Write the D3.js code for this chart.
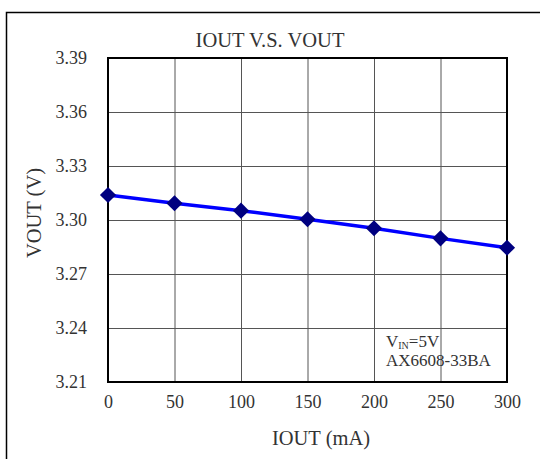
<!DOCTYPE html>
<html>
<head>
<meta charset="utf-8">
<script src="https://cdn.jsdelivr.net/npm/d3@7"></script>
<style>
  body { margin: 0; background: #fff; }
  text { font-family: "Liberation Serif", "DejaVu Serif", serif; fill: #333; }
</style>
</head>
<body>
<div id="chart"></div>
<script>
// values
var iout = [0, 50, 100, 150, 200, 250, 300];
var vout = [3.3139, 3.3093, 3.3052, 3.3004, 3.2954, 3.2898, 3.2846];
var xTicks = [0, 50, 100, 150, 200, 250, 300];
var yTicks = [3.21, 3.24, 3.27, 3.30, 3.33, 3.36, 3.39];

var width = 540, height = 459;
var plotLeft = 108, plotRight = 507, plotTop = 58, plotBottom = 382;

var svg = d3.select("#chart").append("svg")
    .attr("width", width).attr("height", height);

// outer frame (only left and top edges show in the picture)
svg.append("path")
    .attr("d", "M6.5," + height + "V12.5H" + width)
    .attr("fill", "none").attr("stroke", "#000").attr("stroke-width", 1.5);

var x = d3.scaleLinear().domain([0, 300]).range([plotLeft, plotRight]);
var y = d3.scaleLinear().domain([3.21, 3.39]).range([plotBottom, plotTop]);

// grid
var grid = svg.append("g");
grid.append("g")
    .attr("transform", "translate(0," + plotBottom + ")")
    .call(d3.axisBottom(x).tickValues(xTicks).tickSize(-(plotBottom - plotTop)).tickFormat(""))
    .call(function (g) { g.select(".domain").remove(); })
    .selectAll("line").attr("stroke", "#555").attr("stroke-width", 1);
grid.append("g")
    .attr("transform", "translate(" + plotLeft + ",0)")
    .call(d3.axisLeft(y).tickValues(yTicks).tickSize(-(plotRight - plotLeft)).tickFormat(""))
    .call(function (g) { g.select(".domain").remove(); })
    .selectAll("line").attr("stroke", "#555").attr("stroke-width", 1);

// plot border
svg.append("rect")
    .attr("x", plotLeft).attr("y", plotTop)
    .attr("width", plotRight - plotLeft).attr("height", plotBottom - plotTop)
    .attr("fill", "none").attr("stroke", "#000").attr("stroke-width", 2);

// tick labels
var xa = svg.append("g")
    .attr("transform", "translate(0," + plotBottom + ")")
    .call(d3.axisBottom(x).tickValues(xTicks).tickSize(0).tickPadding(13));
xa.select(".domain").remove();
xa.selectAll("text").style("font-size", "18px").attr("fill", null);
xa.attr("font-family", null).attr("font-size", null);

var ya = svg.append("g")
    .attr("transform", "translate(" + plotLeft + ",0)")
    .call(d3.axisLeft(y).tickValues(yTicks).tickSize(0).tickPadding(21).tickFormat(d3.format(".2f")));
ya.select(".domain").remove();
ya.selectAll("text").style("font-size", "18px").attr("fill", null);
ya.attr("font-family", null).attr("font-size", null);

// titles
svg.append("text")
    .attr("x", 270).attr("y", 46.5)
    .attr("text-anchor", "middle")
    .style("font-size", "20.5px")
    .text("IOUT V.S. VOUT");

svg.append("text")
    .attr("x", 321).attr("y", 445)
    .attr("text-anchor", "middle")
    .style("font-size", "20.5px")
    .text("IOUT (mA)");

svg.append("text")
    .attr("transform", "translate(41,213) rotate(-90)")
    .attr("text-anchor", "middle")
    .style("font-size", "20.5px")
    .text("VOUT (V)");

// series
var pts = iout.map(function (d, i) { return [d, vout[i]]; });

svg.append("path")
    .datum(pts)
    .attr("fill", "none")
    .attr("stroke", "#0000ff")
    .attr("stroke-width", 3.5)
    .attr("d", d3.line().x(function (d) { return x(d[0]); }).y(function (d) { return y(d[1]); }));

svg.selectAll(".marker").data(pts)
    .enter().append("path")
    .attr("class", "marker")
    .attr("d", d3.symbol(d3.symbolSquare, 130))
    .attr("fill", "#000080")
    .attr("transform", function (d) { return "translate(" + x(d[0]) + "," + y(d[1]) + ") rotate(45)"; });

// note box text
var note = svg.append("text")
    .attr("x", 386).attr("y", 347)
    .style("font-size", "17px");
note.append("tspan").text("V");
note.append("tspan").attr("dy", 2).style("font-size", "10px").text("IN");
note.append("tspan").attr("dy", -2).text("=5V");

svg.append("text")
    .attr("x", 386).attr("y", 366)
    .style("font-size", "17px")
    .text("AX6608-33BA");
</script>
</body>
</html>
